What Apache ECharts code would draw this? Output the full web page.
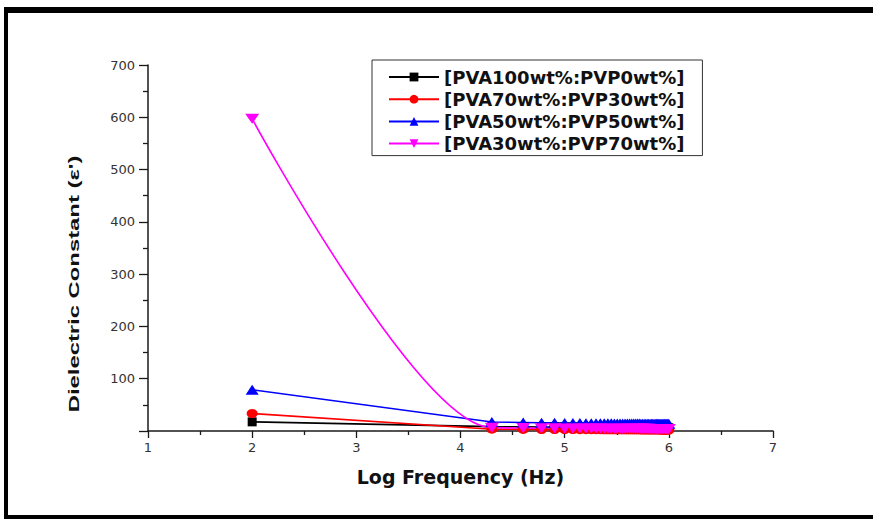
<!DOCTYPE html>
<html>
<head>
<meta charset="utf-8">
<script src="https://cdn.jsdelivr.net/npm/echarts/dist/echarts.min.js"></script>
<style>
  html, body { margin: 0; padding: 0; background: #fff; }
  #chart { width: 873px; height: 519px; }
</style>
</head>
<body>
<div id="chart"></div>
<script>
// Measurement frequencies in Hz (100 Hz, then 20 kHz steps up to 1 MHz)
const freqHz = [
  100,
  20000, 40000, 60000, 80000, 100000, 120000, 140000, 160000, 180000, 200000,
  220000, 240000, 260000, 280000, 300000, 320000, 340000, 360000, 380000, 400000,
  420000, 440000, 460000, 480000, 500000, 520000, 540000, 560000, 580000, 600000,
  620000, 640000, 660000, 680000, 700000, 720000, 740000, 760000, 780000, 800000,
  820000, 840000, 860000, 880000, 900000, 920000, 940000, 960000, 980000, 1000000
];

// Dielectric constant of each blend at the frequencies above
const pva100 = [
  17.5,
  8.4, 8.0, 7.7, 7.5, 7.4, 7.3, 7.2, 7.1, 7.0, 7.0,
  6.9, 6.9, 6.8, 6.8, 6.8, 6.7, 6.7, 6.7, 6.6, 6.6,
  6.6, 6.6, 6.5, 6.5, 6.5, 6.5, 6.4, 6.4, 6.4, 6.4,
  6.4, 6.3, 6.3, 6.3, 6.3, 6.3, 6.3, 6.2, 6.2, 6.2,
  6.2, 6.2, 6.2, 6.1, 6.1, 6.1, 6.1, 6.1, 6.1, 6.0
];
const pva70 = [
  33.5,
  3.4, 3.1, 2.9, 2.8, 2.7, 2.7, 2.6, 2.6, 2.5, 2.5,
  2.5, 2.4, 2.4, 2.4, 2.4, 2.3, 2.3, 2.3, 2.3, 2.3,
  2.2, 2.2, 2.2, 2.2, 2.2, 2.2, 2.1, 2.1, 2.1, 2.1,
  2.1, 2.1, 2.1, 2.0, 2.0, 2.0, 2.0, 2.0, 2.0, 2.0,
  2.0, 1.9, 1.9, 1.9, 1.9, 1.9, 1.9, 1.9, 1.9, 1.9
];
const pva50 = [
  79,
  17.2, 16.4, 15.9, 15.6, 15.4, 15.2, 15.1, 15.0, 14.9, 14.8,
  14.7, 14.7, 14.6, 14.6, 14.5, 14.5, 14.4, 14.4, 14.4, 14.3,
  14.3, 14.3, 14.2, 14.2, 14.2, 14.2, 14.1, 14.1, 14.1, 14.1,
  14.0, 14.0, 14.0, 14.0, 14.0, 13.9, 13.9, 13.9, 13.9, 13.9,
  13.9, 13.8, 13.8, 13.8, 13.8, 13.8, 13.8, 13.7, 13.7, 13.7
];
const pva30 = [
  597,
  6.4, 5.7, 5.4, 5.2, 5.0, 4.9, 4.8, 4.7, 4.7, 4.6,
  4.6, 4.5, 4.5, 4.5, 4.4, 4.4, 4.4, 4.3, 4.3, 4.3,
  4.3, 4.2, 4.2, 4.2, 4.2, 4.2, 4.1, 4.1, 4.1, 4.1,
  4.1, 4.1, 4.0, 4.0, 4.0, 4.0, 4.0, 4.0, 4.0, 3.9,
  3.9, 3.9, 3.9, 3.9, 3.9, 3.9, 3.8, 3.8, 3.8, 3.8
];

const seriesNames = [
  '[PVA100wt%:PVP0wt%]',
  '[PVA70wt%:PVP30wt%]',
  '[PVA50wt%:PVP50wt%]',
  '[PVA30wt%:PVP70wt%]'
];

const xTicks = { min: 1, max: 7, step: 1 };
const yTicks = { min: 0, max: 700, step: 100 };

const logF = freqHz.map(f => Math.log10(f));
const pairs = vals => vals.map((v, i) => [logF[i], v]);

const chart = echarts.init(document.getElementById('chart'), null, { renderer: 'svg' });

const axisColor = '#1a1a1a';
const tickFont = { fontFamily: 'DejaVu Sans', fontSize: 13, color: '#333' };

function lineSeries(name, vals, color, symbol, size, extra) {
  return Object.assign({
    name: name,
    type: 'line',
    data: pairs(vals),
    symbol: symbol,
    symbolSize: size,
    symbolKeepAspect: false,
    lineStyle: { color: color, width: 1.6 },
    itemStyle: { color: color },
    emphasis: { disabled: true }
  }, extra || {});
}

chart.setOption({
  animation: false,
  backgroundColor: '#fff',
  grid: { left: 148, right: 100, top: 65, bottom: 88 },
  legend: {
    left: 372,
    top: 60,
    orient: 'vertical',
    itemWidth: 50,
    itemHeight: 11,
    itemGap: 2.2,
    padding: [7, 18, 2, 16],
    borderColor: '#333',
    borderWidth: 1,
    textStyle: {
      fontFamily: 'DejaVu Sans',
      fontWeight: 'bold',
      fontSize: 18,
      lineHeight: 20,
      color: '#111'
    },
    data: seriesNames
  },
  xAxis: {
    type: 'value',
    min: xTicks.min,
    max: xTicks.max,
    interval: xTicks.step,
    name: 'Log Frequency (Hz)',
    nameLocation: 'middle',
    nameGap: 36,
    nameTextStyle: { fontFamily: 'DejaVu Sans', fontWeight: 'bold', fontSize: 19, color: '#111' },
    axisLine: { onZero: false, lineStyle: { color: axisColor, width: 1.5 } },
    axisTick: { inside: false, length: 7, lineStyle: { color: axisColor, width: 1.3 } },
    minorTick: { show: true, splitNumber: 2, length: 4, lineStyle: { color: axisColor, width: 1.3 } },
    splitLine: { show: false },
    axisLabel: Object.assign({ margin: 10 }, tickFont)
  },
  yAxis: {
    type: 'value',
    min: yTicks.min,
    max: yTicks.max,
    interval: yTicks.step,
    axisLine: { show: true, onZero: false, lineStyle: { color: axisColor, width: 1.5 } },
    axisTick: { show: true, inside: false, length: 9, lineStyle: { color: axisColor, width: 1.3 } },
    minorTick: { show: true, splitNumber: 2, length: 5, lineStyle: { color: axisColor, width: 1.3 } },
    splitLine: { show: false },
    axisLabel: Object.assign({ margin: 13, showMinLabel: false }, tickFont)
  },
  graphic: [
    // page frame
    { type: 'rect', shape: { x: 4, y: 7, width: 869, height: 6 }, style: { fill: '#000' }, silent: true },
    { type: 'rect', shape: { x: 4, y: 7, width: 4, height: 512 }, style: { fill: '#000' }, silent: true },
    { type: 'rect', shape: { x: 4, y: 515, width: 869, height: 4 }, style: { fill: '#000' }, silent: true },
    // vertical axis title
    {
      type: 'text',
      x: 74,
      y: 284,
      rotation: Math.PI / 2,
      scaleX: 1.59,
      style: {
        text: 'Dielectric Constant (\u03b5\')',
        font: 'bold 15px "Liberation Sans", Arial, sans-serif',
        fill: '#111',
        align: 'center',
        verticalAlign: 'middle'
      },
      silent: true
    }
  ],
  series: [
    lineSeries(seriesNames[0], pva100, '#000000', 'rect', [9, 9]),
    lineSeries(seriesNames[1], pva70, '#ff0000', 'circle', [11, 9]),
    lineSeries(seriesNames[2], pva50, '#0000ff', 'triangle', [13, 10]),
    lineSeries(seriesNames[3], pva30, '#ff00ff', 'path://M0,0L10,0L5,8.66Z', [14, 10],
      { smooth: 0.3, smoothMonotone: 'x' })
  ]
});
</script>
</body>
</html>
